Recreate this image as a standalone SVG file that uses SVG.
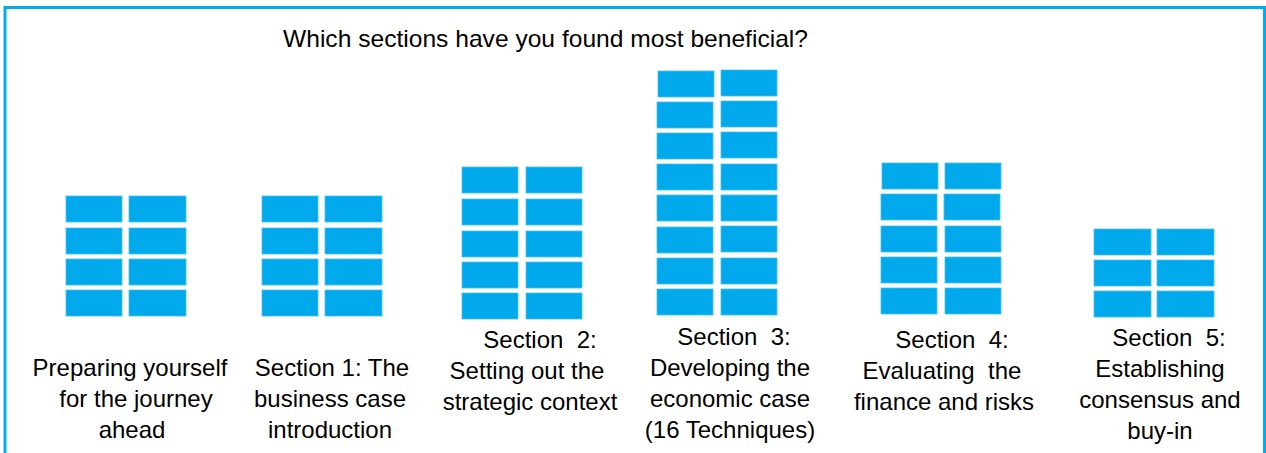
<svg xmlns="http://www.w3.org/2000/svg" width="1266" height="453" viewBox="0 0 1266 453">
<style>
.frame{fill:#ffffff;stroke:#00AEEF;stroke-width:3}
.b{fill:#00A9EB;stroke:#45C0F0;stroke-width:0.8}
text{font-family:"Liberation Sans",Arial,sans-serif;font-size:24px;fill:#000;white-space:pre}
.l{text-anchor:middle}
</style>
<rect class="frame" x="5" y="7.5" width="1259.5" height="500"/>
<text id="title" x="283" y="47" textLength="525" lengthAdjust="spacingAndGlyphs">Which sections have you found most beneficial?</text>
<g id="node-prep">
<rect class="b" x="66" y="196" width="56" height="26"/><rect class="b" x="129" y="196" width="57" height="26"/>
<rect class="b" x="66" y="228" width="56" height="26"/><rect class="b" x="129" y="228" width="57" height="26"/>
<rect class="b" x="66" y="259" width="56" height="26"/><rect class="b" x="129" y="259" width="57" height="26"/>
<rect class="b" x="66" y="290" width="56" height="26"/><rect class="b" x="129" y="290" width="57" height="26"/>
<text class="l" x="130" y="376">Preparing yourself</text>
<text class="l" x="136" y="407">for the journey</text>
<text class="l" x="132" y="438">ahead</text>
</g>
<g id="node-s1">
<rect class="b" x="262" y="196" width="56" height="26"/><rect class="b" x="325" y="196" width="57" height="26"/>
<rect class="b" x="262" y="228" width="56" height="26"/><rect class="b" x="325" y="228" width="57" height="26"/>
<rect class="b" x="262" y="259" width="56" height="26"/><rect class="b" x="325" y="259" width="57" height="26"/>
<rect class="b" x="262" y="290" width="56" height="26"/><rect class="b" x="325" y="290" width="57" height="26"/>
<text class="l" x="332" y="376">Section 1: The</text>
<text class="l" x="330" y="407">business case</text>
<text class="l" x="330" y="438">introduction</text>
</g>
<g id="node-s2">
<rect class="b" x="462" y="167" width="56" height="26"/><rect class="b" x="526" y="167" width="56" height="26"/>
<rect class="b" x="462" y="199" width="56" height="26"/><rect class="b" x="526" y="199" width="56" height="26"/>
<rect class="b" x="462" y="231" width="56" height="26"/><rect class="b" x="526" y="231" width="56" height="26"/>
<rect class="b" x="462" y="262" width="56" height="26"/><rect class="b" x="526" y="262" width="56" height="26"/>
<rect class="b" x="462" y="293" width="56" height="26"/><rect class="b" x="526" y="293" width="56" height="26"/>
<text class="l" x="540" y="348">Section  2:</text>
<text class="l" x="527" y="379">Setting out the</text>
<text class="l" x="530" y="410">strategic context</text>
</g>
<g id="node-s3">
<rect class="b" x="658" y="71" width="56" height="26"/><rect class="b" x="721" y="70" width="56" height="26"/>
<rect class="b" x="657" y="102" width="56" height="26"/><rect class="b" x="721" y="101" width="56" height="26"/>
<rect class="b" x="657" y="133" width="56" height="26"/><rect class="b" x="721" y="132" width="56" height="26"/>
<rect class="b" x="657" y="164" width="56" height="26"/><rect class="b" x="721" y="164" width="56" height="26"/>
<rect class="b" x="657" y="195" width="56" height="26"/><rect class="b" x="721" y="195" width="56" height="26"/>
<rect class="b" x="657" y="227" width="56" height="26"/><rect class="b" x="721" y="226" width="56" height="26"/>
<rect class="b" x="657" y="258" width="56" height="26"/><rect class="b" x="721" y="258" width="56" height="26"/>
<rect class="b" x="657" y="289" width="56" height="26"/><rect class="b" x="721" y="289" width="56" height="26"/>
<text class="l" x="734" y="345">Section  3:</text>
<text class="l" x="730" y="376">Developing the</text>
<text class="l" x="730" y="407">economic case</text>
<text class="l" x="730" y="438">(16 Techniques)</text>
</g>
<g id="node-s4">
<rect class="b" x="882" y="163" width="56" height="26"/><rect class="b" x="945" y="163" width="56" height="26"/>
<rect class="b" x="881" y="194" width="56" height="26"/><rect class="b" x="944" y="194" width="56" height="26"/>
<rect class="b" x="881" y="226" width="56" height="26"/><rect class="b" x="945" y="226" width="56" height="26"/>
<rect class="b" x="881" y="257" width="56" height="26"/><rect class="b" x="945" y="257" width="56" height="26"/>
<rect class="b" x="881" y="288" width="56" height="26"/><rect class="b" x="945" y="288" width="56" height="26"/>
<text class="l" x="952" y="348">Section  4:</text>
<text class="l" x="942" y="379">Evaluating  the</text>
<text class="l" x="944" y="410">finance and risks</text>
</g>
<g id="node-s5">
<rect class="b" x="1094" y="229" width="57" height="26"/><rect class="b" x="1157" y="229" width="57" height="26"/>
<rect class="b" x="1094" y="260" width="57" height="26"/><rect class="b" x="1157" y="260" width="57" height="26"/>
<rect class="b" x="1094" y="291" width="57" height="26"/><rect class="b" x="1157" y="291" width="57" height="26"/>
<text class="l" x="1169" y="346">Section  5:</text>
<text class="l" x="1160" y="377">Establishing</text>
<text class="l" x="1160" y="408">consensus and</text>
<text class="l" x="1160" y="439">buy-in</text>
</g>
<g id="connectors"/>
</svg>
